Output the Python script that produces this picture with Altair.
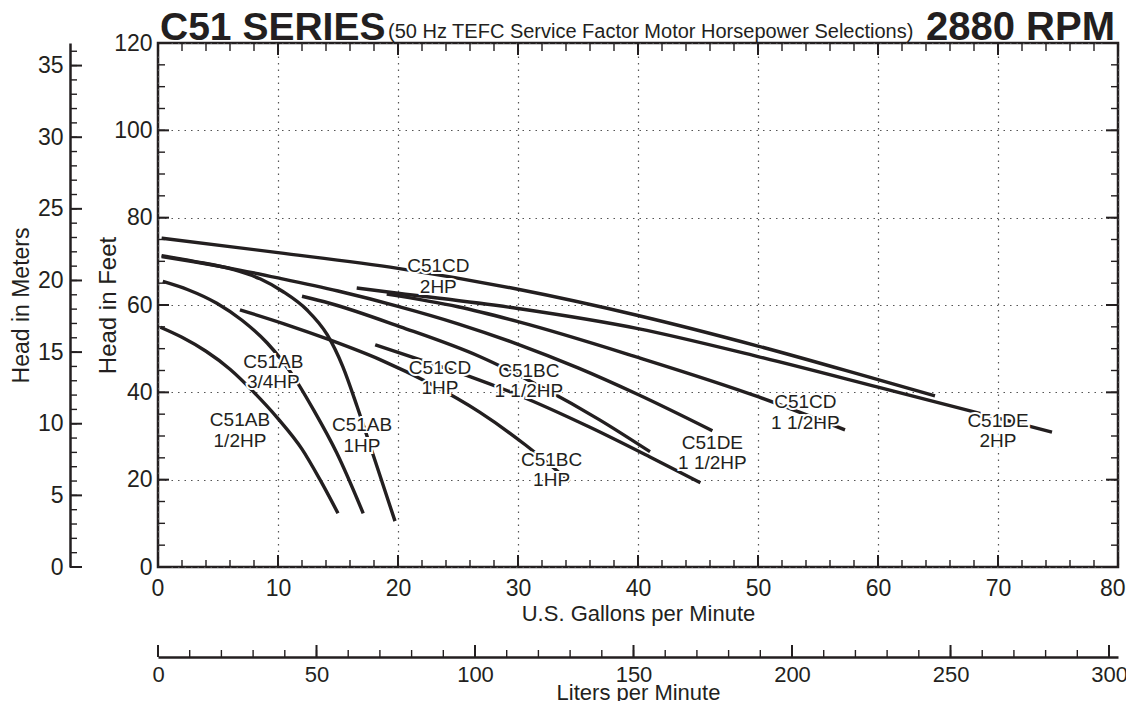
import altair as alt
import pandas as pd

FONT = "Liberation Sans"
INK = "#231f20"
W, H = 960, 524
L_OFF = 90  # offset of the litres axis below the plot

# ---------------- curve data: (US GPM, head in feet) ----------------
ab_half_gpm = [0.2, 2.0, 4.0, 6.0, 8.0, 10.0, 12.0, 13.5, 15.0]
ab_half_ft = [54.9, 52.6, 49.4, 45.3, 40.0, 34.0, 27.0, 20.0, 12.3]

ab_3q_gpm = [0.4, 2.5, 4.9, 7.0, 9.1, 11.3, 13.0, 14.9, 17.1]
ab_3q_ft = [65.4, 63.5, 60.4, 56.5, 51.3, 43.6, 35.8, 26.1, 12.3]

ab_1_gpm = [0.3, 3.0, 6.3, 8.5, 10.4, 12.4, 14.1, 15.4, 16.6, 17.7, 19.75]
ab_1_ft = [71.3, 70.0, 68.1, 66.0, 63.1, 58.9, 53.2, 45.9, 36.7, 27.6, 10.5]

de_15_gpm = [0.3, 3.0, 6.8, 10.0, 15.0, 20.0, 25.0, 30.0, 35.0, 40.0, 46.2]
de_15_ft = [71.1, 69.9, 68.0, 66.2, 63.2, 59.7, 55.7, 51.0, 45.6, 39.5, 31.2]

cd_2_gpm = [0.3, 10.0, 20.0, 30.0, 40.0, 50.0, 60.0, 64.75]
cd_2_ft = [75.3, 72.0, 68.4, 63.6, 57.6, 50.6, 42.9, 39.2]

de_2_gpm = [16.56, 20.0, 30.0, 40.0, 50.0, 60.0, 70.0, 74.5]
de_2_ft = [63.9, 62.7, 59.2, 54.6, 48.2, 41.2, 34.1, 30.9]

cd_15_gpm = [19.06, 25.0, 30.0, 40.0, 50.0, 57.25]
cd_15_ft = [62.5, 59.6, 56.2, 48.0, 39.0, 31.4]

bc_15_gpm = [12.0, 14.3, 20.2, 26.8, 32.1, 36.8, 41.0]
bc_15_ft = [62.0, 60.4, 55.0, 48.2, 41.0, 33.7, 26.4]

cd_1_gpm = [18.1, 22.0, 26.0, 30.0, 36.0, 41.0, 45.2]
cd_1_ft = [50.9, 47.3, 43.6, 39.4, 32.0, 25.2, 19.3]

bc_1_gpm = [6.83, 10.5, 14.33, 18.5, 22.67, 26.83, 30.6, 34.3]
bc_1_ft = [58.9, 55.7, 52.0, 47.5, 42.0, 35.4, 28.0, 19.6]

curves = [
    ("AB 1/2", ab_half_gpm, ab_half_ft),
    ("AB 3/4", ab_3q_gpm, ab_3q_ft),
    ("AB 1", ab_1_gpm, ab_1_ft),
    ("DE 1.5", de_15_gpm, de_15_ft),
    ("CD 2", cd_2_gpm, cd_2_ft),
    ("DE 2", de_2_gpm, de_2_ft),
    ("CD 1.5", cd_15_gpm, cd_15_ft),
    ("BC 1.5", bc_15_gpm, bc_15_ft),
    ("CD 1", cd_1_gpm, cd_1_ft),
    ("BC 1", bc_1_gpm, bc_1_ft),
]

# ---------------- curve labels ----------------
label_text = ["C51AB\n1/2HP", "C51AB\n3/4HP", "C51AB\n1HP", "C51CD\n2HP", "C51CD\n1HP",
              "C51BC\n1 1/2HP", "C51BC\n1HP", "C51DE\n1 1/2HP", "C51CD\n1 1/2HP", "C51DE\n2HP"]
label_gpm = [6.83, 9.61, 17.0, 23.36, 23.5, 30.9, 32.8, 46.2, 53.95, 70.0]
label_ft = [33.6, 47.0, 32.5, 68.9, 45.6, 45.0, 24.6, 28.4, 37.7, 33.5]

# ---------------- axis tick values ----------------
gpm_labels = [0, 10, 20, 30, 40, 50, 60, 70, 80]
gpm_minor = list(range(0, 81, 2))
ft_labels = [0, 20, 40, 60, 80, 100, 120]
ft_minor = list(range(0, 121, 5))
m_labels = [0, 5, 10, 15, 20, 25, 30, 35]
m_minor = list(range(0, 37, 1))
lpm_labels = [0, 50, 100, 150, 200, 250, 300]
lpm_minor = list(range(0, 301, 10))

FT_PER_M = 3.28084
L_PER_GAL = 3.785411784

rows = []
for name, g, f in curves:
    for i, (x, y) in enumerate(zip(g, f)):
        rows.append({"curve": name, "gpm": x, "ft": y, "order": i})
df = pd.DataFrame(rows)
lab_df = pd.DataFrame({"gpm": label_gpm, "ft": label_ft, "label": label_text})

xs = alt.Scale(domain=[0, 80], nice=False, zero=False)
ys = alt.Scale(domain=[0, 120], nice=False, zero=False)
ms = alt.Scale(domain=[0, 120 / FT_PER_M], nice=False, zero=False)
ls = alt.Scale(domain=[0, 80 * L_PER_GAL], nice=False, zero=False)

common_axis = dict(
    ticks=False, labelFont=FONT, labelColor=INK,
    titleFont=FONT, titleColor=INK, titleFontWeight="normal", format="d",
)
grid_style = dict(grid=True, gridDash=[1.5, 5], gridColor="#555555", gridWidth=1.2)

x_axis = alt.Axis(orient="bottom", values=gpm_labels, title="U.S. Gallons per Minute", domain=False,
                  labelFlush=True, labelFlushOffset=7, labelPadding=10, labelFontSize=23,
                  titleFontSize=22, titlePadding=3, **grid_style, **common_axis)
y_axis = alt.Axis(orient="left", values=ft_labels, title="Head in Feet", domain=False,
                  labelPadding=6, labelFontSize=23, titleFontSize=24, titlePadding=-7,
                  **grid_style, **common_axis)
m_axis = alt.Axis(orient="left", offset=88, values=m_labels, title="Head in Meters",
                  domain=True, domainColor=INK, domainWidth=2.5, grid=False,
                  labelPadding=7, labelFontSize=23, titleFontSize=23, titlePadding=4, **common_axis)
l_axis = alt.Axis(orient="bottom", offset=L_OFF, values=lpm_labels, title="Liters per Minute",
                  domain=True, domainColor=INK, domainWidth=2.5, grid=False, labelFlush=False,
                  labelPadding=7, labelFontSize=22, titleFontSize=22, titlePadding=-3, **common_axis)

lines = alt.Chart(df).mark_line(color=INK, strokeWidth=3.4, interpolate="monotone").encode(
    x=alt.X("gpm:Q", scale=xs, axis=x_axis),
    y=alt.Y("ft:Q", scale=ys, axis=y_axis),
    detail="curve:N",
    order="order:Q",
)

text_style = dict(font=FONT, fontSize=19, lineBreak="\n", lineHeight=20.5,
                  align="center", baseline="middle")
halo = alt.Chart(lab_df).mark_text(fill="white", stroke="white", strokeWidth=4, **text_style).encode(
    x=alt.X("gpm:Q", scale=xs, axis=None), y=alt.Y("ft:Q", scale=ys, axis=None), text="label:N")
labels = alt.Chart(lab_df).mark_text(color=INK, **text_style).encode(
    x=alt.X("gpm:Q", scale=xs, axis=None), y=alt.Y("ft:Q", scale=ys, axis=None), text="label:N")


def gpm_ticks(vals, y0, y1, w):
    return alt.Chart(pd.DataFrame({"gpm": vals})).mark_rule(color=INK, strokeWidth=w).encode(
        x=alt.X("gpm:Q", scale=xs, axis=None), y=alt.value(y0), y2=alt.value(y1))


def ft_ticks(vals, x0, x1, w):
    return alt.Chart(pd.DataFrame({"ft": vals})).mark_rule(color=INK, strokeWidth=w).encode(
        y=alt.Y("ft:Q", scale=ys, axis=None), x=alt.value(x0), x2=alt.value(x1))


tick_layers = [
    gpm_ticks(gpm_minor, H, H - 7, 1.4), gpm_ticks(gpm_labels, H, H - 12, 2),
    gpm_ticks(gpm_minor, 0, 8, 1.4), gpm_ticks(gpm_labels, 0, 12, 2),
    ft_ticks(ft_minor, 0, 7, 1.4), ft_ticks(ft_labels, 0, 11, 2),
    ft_ticks(ft_minor, W, W - 7, 1.4), ft_ticks(ft_labels, W, W - 12, 2),
]


def title_text(txt, x, y, size, weight, align):
    return alt.Chart(pd.DataFrame({"t": [txt]})).mark_text(
        font=FONT, fontSize=size, fontWeight=weight, align=align, baseline="alphabetic", color=INK
    ).encode(text="t:N", x=alt.value(x), y=alt.value(y))


titles = [
    title_text("C51 SERIES", 2, -3, 39, "bold", "left"),
    title_text("(50 Hz TEFC Service Factor Motor Horsepower Selections)", 230, -5, 20, "normal", "left"),
    title_text("2880 RPM", 957, -3, 40, "bold", "right"),
]

m_minor_l = alt.Chart(pd.DataFrame({"m": m_minor})).mark_rule(color=INK, strokeWidth=1.4).encode(
    y=alt.Y("m:Q", scale=ms, axis=m_axis), x=alt.value(-88), x2=alt.value(-81))
m_major_l = alt.Chart(pd.DataFrame({"m": m_labels})).mark_rule(color=INK, strokeWidth=2).encode(
    y=alt.Y("m:Q", scale=ms, axis=None), x=alt.value(-88), x2=alt.value(-76))

l_minor_l = alt.Chart(pd.DataFrame({"l": lpm_minor})).mark_rule(color=INK, strokeWidth=1.4).encode(
    x=alt.X("l:Q", scale=ls, axis=l_axis), y=alt.value(H + L_OFF), y2=alt.value(H + L_OFF - 7))
l_major_l = alt.Chart(pd.DataFrame({"l": lpm_labels})).mark_rule(color=INK, strokeWidth=2).encode(
    x=alt.X("l:Q", scale=ls, axis=None), y=alt.value(H + L_OFF), y2=alt.value(H + L_OFF - 12))

chart = alt.layer(
    lines, halo, labels, *tick_layers, *titles,
    m_minor_l, m_major_l, l_minor_l, l_major_l,
).resolve_scale(
    x="independent", y="independent"
).resolve_axis(
    x="independent", y="independent"
).properties(
    width=W, height=H,
    padding={"left": 150, "top": 35, "right": 8, "bottom": 134},
    autosize=alt.AutoSizeParams(type="none"),
).configure_view(stroke=INK, strokeWidth=2.5)

chart.save("out.html", embed_options={"renderer": "svg", "actions": False})
